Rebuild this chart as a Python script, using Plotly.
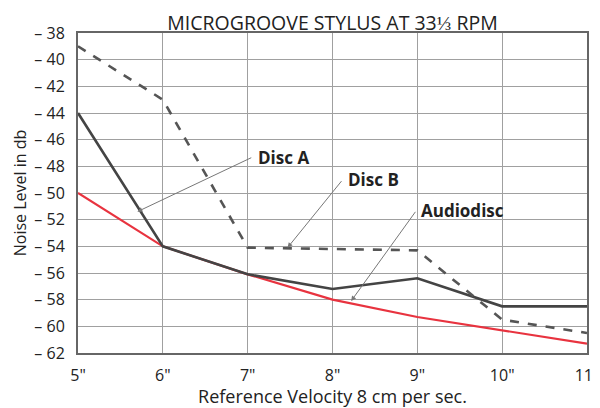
import plotly.graph_objects as go

x_vals = [5, 6, 7, 8, 9, 10, 11]
x_labels = ['5"', '6"', '7"', '8"', '9"', '10"', '11"']
disc_a = [-44, -54, -56.1, -57.2, -56.4, -58.5, -58.5]
disc_b = [-39, -43, -54.1, -54.2, -54.3, -59.5, -60.5]
audiodisc = [-50, -54, -56.1, -58.0, -59.3, -60.3, -61.3]
y_ticks = list(range(-38, -63, -2))
y_labels = ["\u2013 %d" % abs(v) for v in y_ticks]

FONT = "Open Sans"
fig = go.Figure()
fig.add_trace(go.Scatter(x=x_vals, y=audiodisc, mode="lines", name="Audiodisc",
                         line=dict(color="#e8333f", width=2.2)))
fig.add_trace(go.Scatter(x=x_vals, y=disc_a, mode="lines", name="Disc A",
                         line=dict(color="#444444", width=2.6)))
fig.add_trace(go.Scatter(x=x_vals, y=disc_b, mode="lines", name="Disc B",
                         line=dict(color="#555555", width=2.6, dash="dash")))

labels = [
    ("Disc A", 5.70, -51.4, 7.06, -47.3),
    ("Disc B", 7.47, -54.1, 8.12, -49.0),
    ("Audiodisc", 8.22, -58.1, 8.99, -51.3),
]
for txt, tx, ty, ax, ay in labels:
    fig.add_annotation(x=tx, y=ty, ax=ax, ay=ay, axref="x", ayref="y", xref="x", yref="y",
                       text="", showarrow=True, arrowhead=2, arrowsize=1, arrowwidth=1,
                       arrowcolor="#777777")
    fig.add_annotation(x=ax, y=ay, xref="x", yref="y", text="<b>%s</b>" % txt,
                       showarrow=False, xanchor="left", yanchor="middle", xshift=3,
                       font=dict(family=FONT, size=17, color="#222222"))

fig.update_layout(
    width=592, height=400,
    margin=dict(l=70, r=13, t=25, b=55, autoexpand=False),
    paper_bgcolor="white", plot_bgcolor="white",
    showlegend=False,
    title=dict(text="MICROGROOVE STYLUS AT 33\u2153 RPM", x=0.5, xanchor="center",
               xref="paper", y=0.963, yanchor="middle", automargin=False,
               font=dict(family=FONT, size=19.5, color="#222222")),
    font=dict(family=FONT, color="#222222"),
)
fig.update_xaxes(range=[5, 11], tickvals=x_vals, ticktext=x_labels, automargin=False,
                 showgrid=True, gridcolor="#a0a0a0", gridwidth=1,
                 showline=True, linecolor="#666666", linewidth=2, mirror=True,
                 ticks="", ticklabelstandoff=7, tickfont=dict(size=16, family=FONT),
                 title=dict(text="Reference Velocity 8 cm per sec.", standoff=2,
                            font=dict(size=18, family=FONT)),
                 zeroline=False)
fig.update_yaxes(range=[-62, -38], tickvals=y_ticks, ticktext=y_labels, automargin=False,
                 showgrid=True, gridcolor="#a0a0a0", gridwidth=1,
                 showline=True, linecolor="#666666", linewidth=2, mirror=True,
                 ticks="", ticklabelstandoff=8, tickfont=dict(size=16, family=FONT),
                 title=dict(text="Noise Level in db", standoff=4,
                            font=dict(size=16, family=FONT)),
                 zeroline=False)

fig.write_html("out.html")
